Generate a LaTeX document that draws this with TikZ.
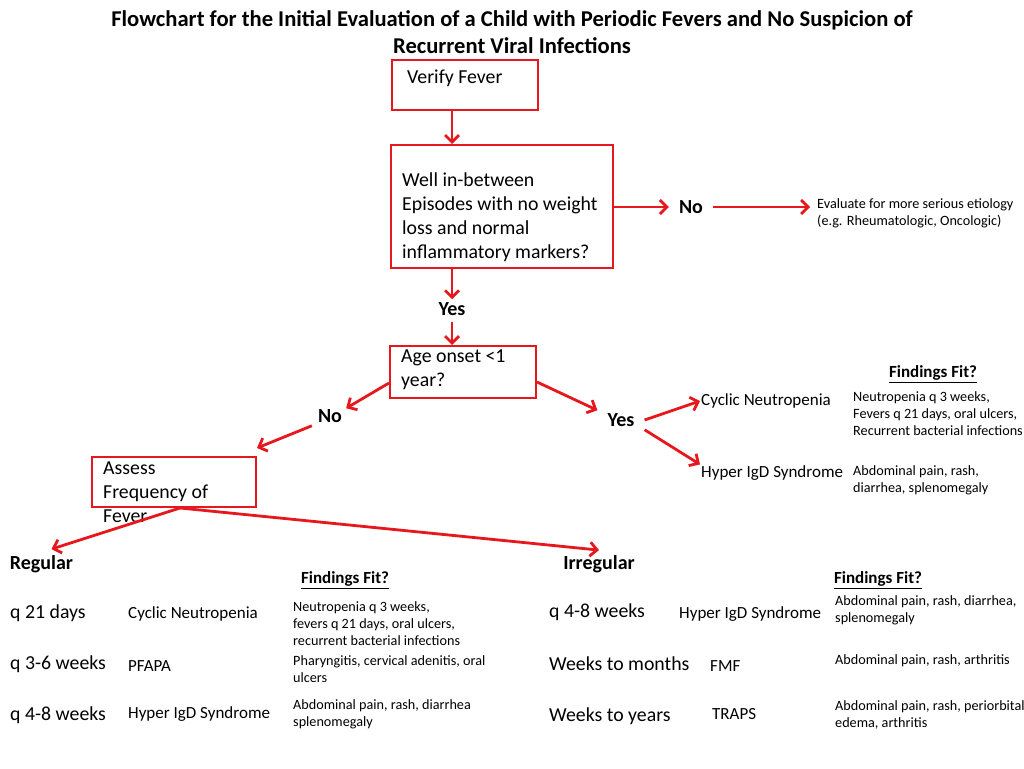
\documentclass[tikz,border=0pt]{standalone}
\usepackage{fontspec}
\setmainfont{Carlito}
\usetikzlibrary{arrows.meta}
\definecolor{flowred}{RGB}{230,24,30}

\begin{document}
\begin{tikzpicture}[x=1pt,y=-1pt,
	flowbox/.style={draw=flowred,line width=2pt,inner sep=0pt},
	arr/.style={draw=flowred,line width=2.8pt,-{Straight Barb[length=7pt,width=14pt]}},
	titletxt/.style={align=center,font=\bfseries\fontsize{22.6}{27}\selectfont},
	boxtxt/.style={anchor=west,align=left,inner sep=1pt,font=\fontsize{19.8}{24}\selectfont},
	lab/.style={font=\bfseries\fontsize{20}{22}\selectfont,inner xsep=10pt,inner ysep=3pt},
	fitlab/.style={font=\bfseries\fontsize{17}{19}\selectfont,inner sep=1pt},
	distxt/.style={anchor=west,inner sep=1pt,font=\fontsize{17}{20}\selectfont},
	freqtxt/.style={anchor=west,inner sep=1pt,font=\fontsize{19.8}{22}\selectfont},
	findtxt/.style={anchor=west,align=left,inner sep=1pt,font=\fontsize{14.2}{17}\selectfont}
]
	\useasboundingbox[fill=white] (0,0) rectangle (1024,768);
	
	%TITLE
	\node[titletxt] (title) at (512,32) {Flowchart for the Initial Evaluation of a Child with Periodic Fevers and No Suspicion of\\Recurrent Viral Infections};
	
	%BOXES
	\node[flowbox,minimum width=146pt,minimum height=50pt] (verify) at (465,85) {};
	\node[boxtxt] (verifytxt) at (406,78) {Verify Fever};
	\node[flowbox,minimum width=222pt,minimum height=123pt] (well) at (502,206.5) {};
	\node[boxtxt] (welltxt) at (401,217) {Well in-between\\Episodes with no weight\\loss and normal\\inflammatory markers?};
	\node[flowbox,minimum width=146pt,minimum height=52pt] (age) at (463,372) {};
	\node[boxtxt] (agetxt) at (400,370) {Age onset <1\\year?};
	\node[flowbox,minimum width=164pt,minimum height=50pt] (assess) at (174,482) {};
	\node[boxtxt] (assesstxt) at (102,492) {Assess\\Frequency of\\Fever};
	
	%LABELS
	\node[lab] (yes1) at (452,309) {Yes};
	\node[lab] (no2) at (691,207) {No};
	\node[findtxt] (eval) at (816,213) {Evaluate for more serious etiology\\(e.g. Rheumatologic, Oncologic)};
	\node[lab] (no1) at (330,416) {No};
	\node[lab] (yes2) at (621,420) {Yes};
	\node[lab,inner xsep=1pt] (regular) at (41.5,564) {Regular};
	\node[lab,inner xsep=1pt] (irregular) at (599,564) {Irregular};
	
	%AGE < 1 YEAR
	\node[fitlab] (fitup) at (933,374) {\underline{Findings Fit?}};
	\node[distxt] (cnup) at (700,401) {Cyclic Neutropenia};
	\node[distxt] (hyperup) at (700,473) {Hyper IgD Syndrome};
	\node[findtxt] (cnupfind) at (852,414) {Neutropenia q 3 weeks,\\Fevers q 21 days, oral ulcers,\\Recurrent bacterial infections};
	\node[findtxt] (hyperupfind) at (852,480) {Abdominal pain, rash,\\diarrhea, splenomegaly};
	
	%REGULAR
	\node[fitlab] (regfit) at (345,580) {\underline{Findings Fit?}};
	\node[freqtxt] (regq1) at (9,613) {q 21 days};
	\node[freqtxt] (regq2) at (9,664) {q 3-6 weeks};
	\node[freqtxt] (regq3) at (9,715) {q 4-8 weeks};
	\node[distxt] (regdis1) at (127,614) {Cyclic Neutropenia};
	\node[distxt] (regdis2) at (127,666) {PFAPA};
	\node[distxt] (regdis3) at (127,714) {Hyper IgD Syndrome};
	\node[findtxt] (regfind1) at (292,624) {Neutropenia q 3 weeks,\\fevers q 21 days, oral ulcers,\\recurrent bacterial infections};
	\node[findtxt] (regfind2) at (292,669.5) {Pharyngitis, cervical adenitis, oral\\ulcers};
	\node[findtxt] (regfind3) at (292,714.5) {Abdominal pain, rash, diarrhea\\splenomegaly};
	
	%IRREGULAR
	\node[fitlab] (irrfit) at (878,580) {\underline{Findings Fit?}};
	\node[freqtxt] (irrq1) at (548,612) {q 4-8 weeks};
	\node[freqtxt] (irrq2) at (548,664) {Weeks to months};
	\node[freqtxt] (irrq3) at (548,716) {Weeks to years};
	\node[distxt] (irrdis1) at (678,614) {Hyper IgD Syndrome};
	\node[distxt] (irrdis2) at (709,666) {FMF};
	\node[distxt] (irrdis3) at (711,714) {TRAPS};
	\node[findtxt] (irrfind1) at (834,610.5) {Abdominal pain, rash, diarrhea,\\splenomegaly};
	\node[findtxt] (irrfind2) at (834,661) {Abdominal pain, rash, arthritis};
	\node[findtxt] (irrfind3) at (834,714.5) {Abdominal pain, rash, periorbital\\edema, arthritis};
	
	%ARROWS
	\draw[arr] (verify.south -| yes1) -- (well.north -| yes1);
	\draw[arr] (well.south -| yes1) -- (yes1.north);
	\draw[arr] ([yshift=-3pt]yes1.south) -- (age.north -| yes1);
	\draw[arr] (well.east |- no2) -- (no2.west);
	\draw[arr] (no2.east) -- ([xshift=-6pt]no2.east -| eval.west);
	\draw[arr] ([yshift=-11pt]age.west) -- ([xshift=-6pt,yshift=-2pt]no1.north east);
	\draw[arr] ([xshift=4pt]no1.south west) -- ([yshift=8pt]assess.north east);
	\draw[arr] ([yshift=-10pt]age.east) -- (yes2.north west);
	\draw[arr] (yes2.east) -- (cnup.west);
	\draw[arr] (yes2.south east) -- (hyperup.north west);
	\draw[arr] ([xshift=6pt]assess.south) -- ([xshift=10pt,yshift=3pt]regular.north);
	\draw[arr] ([xshift=6pt]assess.south) -- ([yshift=2pt]irregular.north);
\end{tikzpicture}
\end{document}
